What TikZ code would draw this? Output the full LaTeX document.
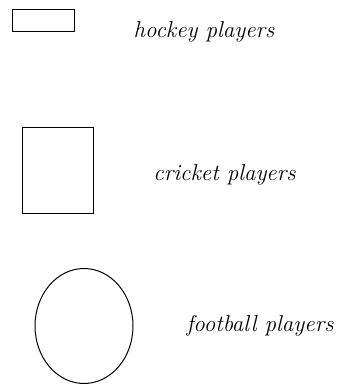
\documentclass[tikz,border=0pt]{standalone}
\usepackage{tikz}
\usetikzlibrary{positioning, shapes.geometric}

\begin{document}
\begin{tikzpicture}[
  x=1pt, y=-1pt,
  sportshape/.style={draw, line width=1pt, inner sep=0pt},
  sportlabel/.style={font=\fontsize{23}{26}\selectfont\itshape, inner sep=0pt}
]
  \useasboundingbox (0,0) rectangle (343,386);

  \node[sportshape, minimum width=62pt, minimum height=22pt] (hockey) at (43,20) {};
  \node[sportlabel] (hockeylbl) at (204,32) {hockey players};

  \node[sportshape, minimum width=71pt, minimum height=86pt] (cricket) at (57.5,170) {};
  \node[sportlabel] (cricketlbl) at (224.5,175) {cricket players};

  \node[sportshape, ellipse, minimum width=98pt, minimum height=115pt] (football) at (84,326) {};
  \node[sportlabel] (footballlbl) at (260,326) {football players};
\end{tikzpicture}
\end{document}
